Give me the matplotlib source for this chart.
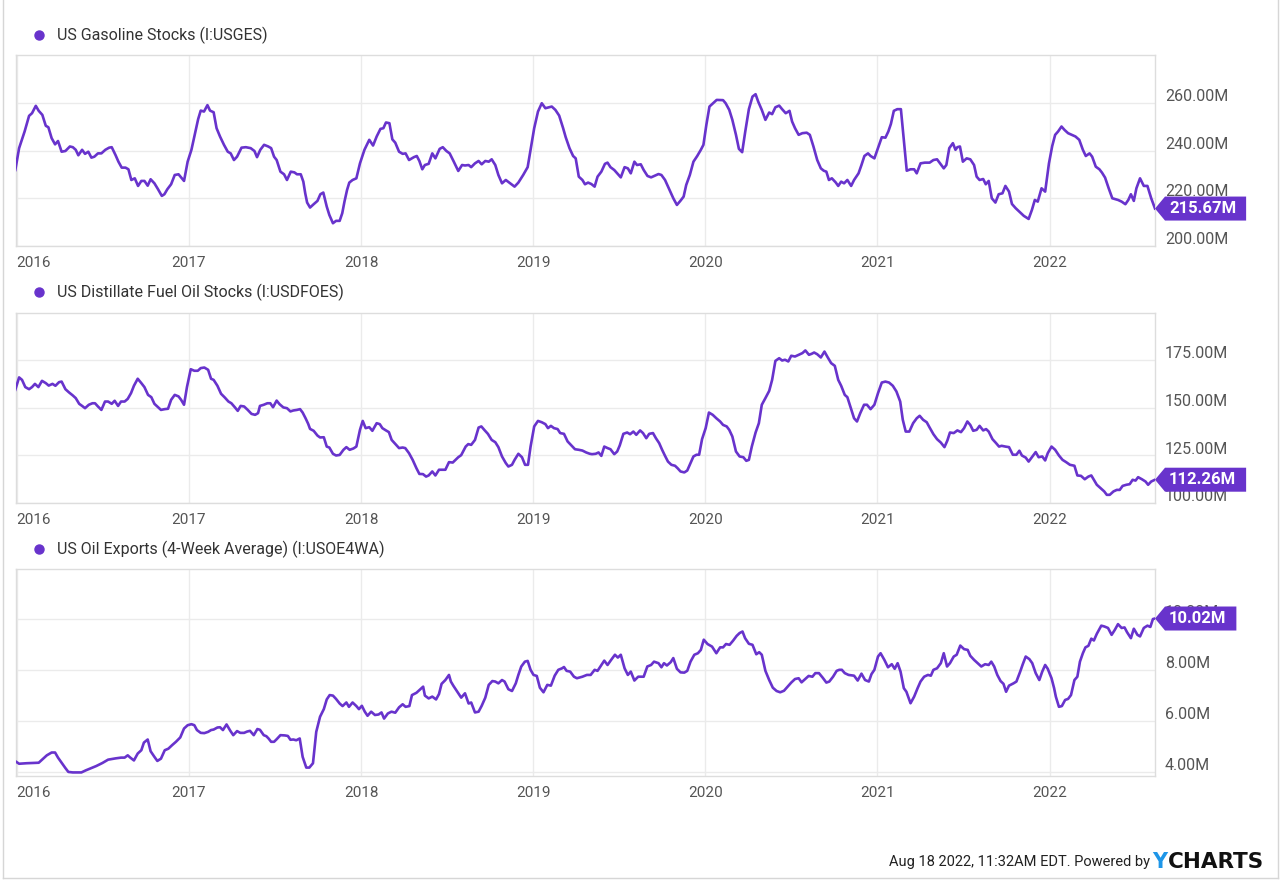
import matplotlib
matplotlib.use("Agg")
import matplotlib.pyplot as plt
import matplotlib.transforms as mtransforms
from matplotlib.patches import Polygon
from matplotlib.lines import Line2D

plt.rcParams['font.family'] = ['Roboto', 'DejaVu Sans']

PURPLE = '#6833cc'
W, H = 1280, 880

# --- data (dates as decimal years) ---
gas_years = [
    2015.992, 2016.014, 2016.046, 2016.072, 2016.089, 2016.111, 2016.128, 2016.149, 2016.169, 2016.184,
    2016.203, 2016.223, 2016.240, 2016.261, 2016.283, 2016.309, 2016.326, 2016.343, 2016.358, 2016.380,
    2016.397, 2016.416, 2016.434, 2016.451, 2016.472, 2016.492, 2016.515, 2016.537, 2016.552, 2016.574,
    2016.591, 2016.610, 2016.632, 2016.649, 2016.666, 2016.686, 2016.705, 2016.724, 2016.742, 2016.761,
    2016.778, 2016.800, 2016.821, 2016.843, 2016.858, 2016.875, 2016.897, 2016.918, 2016.940, 2016.972,
    2016.993, 2017.015, 2017.036, 2017.054, 2017.069, 2017.088, 2017.108, 2017.123, 2017.144, 2017.161,
    2017.181, 2017.204, 2017.226, 2017.243, 2017.262, 2017.280, 2017.306, 2017.331, 2017.359, 2017.381,
    2017.396, 2017.415, 2017.437, 2017.461, 2017.478, 2017.495, 2017.510, 2017.532, 2017.553, 2017.570,
    2017.592, 2017.613, 2017.628, 2017.650, 2017.665, 2017.676, 2017.687, 2017.704, 2017.725, 2017.747,
    2017.764, 2017.781, 2017.801, 2017.816, 2017.837, 2017.855, 2017.876, 2017.891, 2017.904, 2017.919,
    2017.932, 2017.951, 2017.973, 2017.994, 2018.020, 2018.048, 2018.070, 2018.091, 2018.113, 2018.130,
    2018.145, 2018.165, 2018.182, 2018.199, 2018.221, 2018.242, 2018.259, 2018.279, 2018.307, 2018.324,
    2018.339, 2018.356, 2018.371, 2018.393, 2018.414, 2018.432, 2018.457, 2018.475, 2018.496, 2018.515,
    2018.537, 2018.565, 2018.587, 2018.604, 2018.625, 2018.640, 2018.662, 2018.683, 2018.701, 2018.722,
    2018.742, 2018.759, 2018.780, 2018.798, 2018.819, 2018.841, 2018.866, 2018.892, 2018.914, 2018.942,
    2018.968, 2018.985, 2019.006, 2019.028, 2019.050, 2019.071, 2019.108, 2019.129, 2019.151, 2019.174,
    2019.189, 2019.211, 2019.232, 2019.247, 2019.265, 2019.286, 2019.301, 2019.319,
    2019.338, 2019.357, 2019.374, 2019.396, 2019.417, 2019.432, 2019.449, 2019.471, 2019.488, 2019.509,
    2019.531, 2019.550, 2019.567, 2019.588, 2019.603, 2019.625, 2019.642, 2019.664, 2019.685, 2019.706,
    2019.728, 2019.745, 2019.766, 2019.792, 2019.814, 2019.835, 2019.856, 2019.874, 2019.889, 2019.910,
    2019.931, 2019.953, 2019.974, 2019.989, 2020.006, 2020.024, 2020.045, 2020.066, 2020.103, 2020.118,
    2020.139, 2020.157, 2020.178, 2020.195, 2020.214, 2020.232, 2020.253, 2020.274, 2020.292, 2020.307,
    2020.328, 2020.349, 2020.371, 2020.388, 2020.407, 2020.429, 2020.446, 2020.467, 2020.489, 2020.504,
    2020.521, 2020.542, 2020.564, 2020.589, 2020.607, 2020.628, 2020.650, 2020.671, 2020.688, 2020.703,
    2020.718, 2020.735, 2020.757, 2020.772, 2020.789, 2020.806, 2020.825, 2020.847, 2020.864, 2020.890,
    2020.907, 2020.924, 2020.945, 2020.960, 2020.982, 2021.003, 2021.025, 2021.046, 2021.063, 2021.078,
    2021.095, 2021.115, 2021.136, 2021.153, 2021.170, 2021.192, 2021.213, 2021.228, 2021.250, 2021.275,
    2021.303, 2021.325, 2021.346, 2021.368, 2021.385, 2021.400, 2021.417, 2021.438, 2021.453, 2021.464,
    2021.479, 2021.496, 2021.518, 2021.539, 2021.561, 2021.576, 2021.593, 2021.614, 2021.629, 2021.646,
    2021.664, 2021.685, 2021.704, 2021.726, 2021.743, 2021.764, 2021.781, 2021.803, 2021.829, 2021.850,
    2021.878, 2021.897, 2021.914, 2021.931, 2021.953, 2021.974, 2021.996, 2022.015, 2022.032, 2022.049,
    2022.069, 2022.086, 2022.107, 2022.129, 2022.150, 2022.172, 2022.193, 2022.210, 2022.232, 2022.247,
    2022.268, 2022.289, 2022.304, 2022.322, 2022.343, 2022.364, 2022.397, 2022.418, 2022.440, 2022.457,
    2022.472, 2022.489, 2022.504, 2022.525, 2022.547, 2022.568, 2022.590, 2022.612,
]
gas_values = [  # millions of barrels
    231.9, 241.1, 248.1, 254.7, 255.8, 258.9, 256.8, 255.1, 250.5, 249.9,
    245.3, 242.7, 244.1, 239.6, 239.9, 241.8, 241.5, 240.4, 238.1, 240.4,
    238.7, 239.6, 237.1, 237.5, 238.9, 238.9, 240.4, 241.3, 241.5, 238.2,
    235.4, 232.9, 232.9, 232.2, 227.7, 228.4, 225.2, 227.3, 227.3, 225.3,
    228.0, 226.3, 223.8, 221.0, 221.7, 223.8, 225.9, 229.8, 230.1, 227.3,
    235.4, 240.4, 247.4, 253.3, 256.9, 256.5, 259.2, 256.9, 256.2, 249.5,
    246.0, 242.5, 239.6, 238.9, 236.1, 237.5, 241.3, 241.5, 241.1, 239.9,
    237.3, 240.4, 242.5, 241.8, 241.1, 237.5, 236.1, 231.2, 230.1, 227.7,
    231.2, 230.9, 230.1, 230.1, 227.0, 222.1, 218.2, 216.1, 217.5, 218.9,
    221.7, 222.4, 216.5, 213.0, 209.5, 210.5, 210.5, 213.7, 218.6, 223.5,
    226.6, 227.7, 228.4, 234.7, 240.4, 244.6, 242.2, 246.0, 249.2, 249.5,
    251.9, 251.6, 244.8, 243.4, 239.6, 238.7, 238.9, 236.1, 237.3, 237.8,
    235.7, 232.2, 234.0, 234.5, 238.9, 236.8, 240.8, 241.5, 239.9, 238.9,
    235.7, 231.5, 234.0, 233.8, 234.0, 233.1, 234.7, 235.7, 234.3, 235.7,
    235.4, 236.4, 234.0, 229.8, 226.3, 227.7, 226.3, 224.9, 226.6, 229.8,
    233.1, 240.4, 249.5, 256.5, 260.0, 257.9, 258.6, 257.2, 254.8, 249.5,
    245.7, 241.1, 237.8, 236.8, 229.1, 227.7, 225.9, 226.6,
    226.0, 224.9, 229.1, 231.2, 234.5, 235.0, 233.1, 231.9, 230.5, 228.8,
    233.1, 232.6, 230.5, 235.4, 234.0, 234.3, 231.9, 229.4, 228.8, 229.5,
    230.2, 229.8, 227.7, 223.5, 220.0, 217.2, 219.0, 220.7, 225.6, 229.8,
    235.4, 237.8, 240.4, 242.5, 250.9, 258.6, 260.0, 261.4, 261.3, 260.0,
    257.2, 253.0, 246.7, 240.8, 239.4, 248.1, 257.5, 262.8, 263.8, 260.7,
    257.2, 253.0, 256.1, 255.4, 258.3, 259.0, 257.5, 255.8, 256.8, 252.3,
    249.5, 246.7, 247.4, 247.6, 246.7, 241.8, 236.1, 232.6, 231.6, 231.2,
    227.7, 228.4, 226.7, 225.2, 227.0, 226.3, 227.7, 225.2, 227.7, 230.5,
    234.0, 237.8, 238.9, 237.8, 236.8, 241.1, 245.7, 245.5, 248.1, 251.3,
    256.8, 257.5, 257.5, 244.6, 231.6, 232.2, 232.2, 230.5, 234.7, 235.0,
    235.0, 236.1, 236.4, 234.3, 232.6, 234.0, 241.1, 243.2, 240.4, 241.5,
    241.8, 235.4, 236.8, 236.4, 234.0, 229.1, 227.7, 228.1, 225.9, 227.3,
    220.0, 218.2, 221.7, 222.1, 225.2, 222.8, 217.6, 215.8, 214.0, 212.6,
    211.3, 215.1, 219.3, 218.6, 224.2, 222.8, 234.7, 242.0, 246.7, 248.1,
    250.2, 248.8, 247.4, 246.7, 246.0, 244.6, 240.4, 237.8, 238.9, 237.5,
    233.3, 232.2, 230.8, 228.7, 224.2, 220.0, 219.3, 218.6, 217.5, 219.3,
    221.7, 218.9, 224.2, 228.4, 225.2, 225.2, 220.0, 215.67,
]

dist_years = [
    2015.992, 2016.014, 2016.031, 2016.050, 2016.072, 2016.089, 2016.106, 2016.126, 2016.147, 2016.169,
    2016.186, 2016.208, 2016.225, 2016.246, 2016.261, 2016.283, 2016.304, 2016.326, 2016.343, 2016.363,
    2016.380, 2016.397, 2016.419, 2016.440, 2016.455, 2016.472, 2016.492, 2016.513, 2016.531, 2016.552,
    2016.569, 2016.589, 2016.606, 2016.627, 2016.645, 2016.664, 2016.681, 2016.703, 2016.724, 2016.742,
    2016.763, 2016.782, 2016.800, 2016.817, 2016.838, 2016.860, 2016.879, 2016.897, 2016.918, 2016.940,
    2016.955, 2016.972, 2016.989, 2017.011, 2017.032, 2017.052, 2017.069, 2017.090, 2017.112, 2017.129,
    2017.144, 2017.166, 2017.187, 2017.209, 2017.230, 2017.247, 2017.267, 2017.284, 2017.301, 2017.321,
    2017.342, 2017.364, 2017.385, 2017.402, 2017.413, 2017.435, 2017.456, 2017.473, 2017.489, 2017.510,
    2017.527, 2017.549, 2017.570, 2017.590, 2017.607, 2017.628, 2017.646, 2017.661, 2017.678, 2017.693,
    2017.704, 2017.725, 2017.747, 2017.762, 2017.784, 2017.801, 2017.816, 2017.837, 2017.855, 2017.876,
    2017.898, 2017.915, 2017.934, 2017.956, 2017.973, 2017.994, 2018.010, 2018.027, 2018.048, 2018.066,
    2018.091, 2018.109, 2018.124, 2018.145, 2018.162, 2018.178, 2018.199, 2018.221, 2018.242, 2018.257,
    2018.279, 2018.300, 2018.322, 2018.339, 2018.360, 2018.378, 2018.393, 2018.414, 2018.432, 2018.453,
    2018.468, 2018.490, 2018.511, 2018.533, 2018.565, 2018.582, 2018.608, 2018.623, 2018.640, 2018.662,
    2018.683, 2018.699, 2018.716, 2018.737, 2018.759, 2018.780, 2018.798, 2018.819, 2018.841, 2018.856,
    2018.877, 2018.892, 2018.914, 2018.935, 2018.953, 2018.970, 2018.985, 2019.006, 2019.028, 2019.050,
    2019.071, 2019.086, 2019.103, 2019.121, 2019.142, 2019.157, 2019.179, 2019.200, 2019.222, 2019.243,
    2019.265, 2019.286, 2019.308, 2019.329,
    2019.342, 2019.363, 2019.380, 2019.396, 2019.413, 2019.432, 2019.449, 2019.471, 2019.488, 2019.503,
    2019.524, 2019.546, 2019.563, 2019.582, 2019.599, 2019.621, 2019.638, 2019.657, 2019.674, 2019.696,
    2019.713, 2019.732, 2019.749, 2019.766, 2019.783, 2019.803, 2019.824, 2019.839, 2019.856, 2019.878,
    2019.895, 2019.914, 2019.931, 2019.949, 2019.964, 2019.981, 2020.002, 2020.021, 2020.043, 2020.064,
    2020.086, 2020.103, 2020.124, 2020.139, 2020.157, 2020.178, 2020.199, 2020.221, 2020.238, 2020.253,
    2020.270, 2020.292, 2020.311, 2020.328, 2020.349, 2020.371, 2020.388, 2020.407, 2020.429, 2020.446,
    2020.463, 2020.482, 2020.499, 2020.521, 2020.542, 2020.564, 2020.581, 2020.602, 2020.617, 2020.632,
    2020.650, 2020.671, 2020.692, 2020.710, 2020.731, 2020.752, 2020.772, 2020.789, 2020.810, 2020.825,
    2020.842, 2020.864, 2020.881, 2020.900, 2020.922, 2020.939, 2020.960, 2020.982, 2021.003, 2021.025,
    2021.046, 2021.067, 2021.089, 2021.110, 2021.132, 2021.147, 2021.164, 2021.185, 2021.207, 2021.228,
    2021.245, 2021.265, 2021.286, 2021.303, 2021.325, 2021.346, 2021.368, 2021.389, 2021.406, 2021.421,
    2021.443, 2021.464, 2021.485, 2021.503, 2021.522, 2021.539, 2021.556, 2021.576, 2021.593, 2021.614,
    2021.631, 2021.646, 2021.668, 2021.689, 2021.706, 2021.721, 2021.743, 2021.764, 2021.786, 2021.807,
    2021.824, 2021.839, 2021.861, 2021.878, 2021.897, 2021.919, 2021.936, 2021.957, 2021.974, 2021.989,
    2022.011, 2022.032, 2022.054, 2022.075, 2022.096, 2022.118, 2022.144, 2022.161, 2022.182, 2022.204,
    2022.225, 2022.242, 2022.257, 2022.274, 2022.296, 2022.317, 2022.332, 2022.349, 2022.371, 2022.390,
    2022.407, 2022.424, 2022.446, 2022.465, 2022.482, 2022.499, 2022.514, 2022.536, 2022.557, 2022.572,
    2022.590, 2022.612,
]
dist_values = [
    159.6, 166.1, 164.8, 161.0, 159.9, 161.0, 162.7, 161.0, 164.3, 163.1,
    161.8, 162.7, 161.7, 163.6, 163.9, 159.9, 158.2, 156.6, 155.2, 152.2,
    151.1, 149.9, 151.7, 152.5, 152.5, 150.8, 149.0, 153.4, 153.4, 152.2,
    153.8, 151.1, 153.4, 153.4, 154.8, 157.8, 161.7, 165.4, 163.1, 161.0,
    156.9, 155.7, 152.2, 150.8, 149.0, 149.4, 149.6, 154.3, 156.9, 156.1,
    154.3, 151.7, 161.0, 170.4, 169.6, 169.6, 171.0, 171.3, 170.1, 165.4,
    164.8, 161.7, 157.5, 155.5, 153.4, 152.5, 150.4, 148.5, 151.1, 150.8,
    149.0, 146.9, 146.4, 147.3, 151.1, 151.7, 152.5, 152.5, 150.4, 153.9,
    152.0, 150.3, 149.9, 148.2, 148.7, 149.0, 149.4, 147.6, 144.6, 141.7,
    139.0, 138.0, 135.5, 134.5, 134.6, 129.7, 129.2, 125.9, 125.0, 125.3,
    128.0, 129.4, 128.0, 128.7, 129.7, 138.5, 143.2, 139.4, 139.9, 138.0,
    142.0, 141.5, 139.4, 138.2, 137.3, 133.2, 131.1, 128.9, 129.2, 128.9,
    126.2, 122.7, 118.3, 115.3, 115.2, 113.9, 114.5, 116.6, 114.5, 117.5,
    117.5, 117.5, 121.5, 121.3, 124.1, 125.2, 129.7, 131.0, 130.6, 133.2,
    139.7, 140.3, 138.5, 136.4, 133.2, 132.0, 129.4, 124.5, 121.0, 119.2,
    120.1, 122.7, 125.9, 124.1, 120.1, 120.1, 129.7, 140.3, 143.2, 142.5,
    141.5, 139.4, 140.6, 139.4, 138.9, 136.8, 136.4, 132.4, 130.3, 128.3,
    128.0, 127.6, 126.6, 125.9,
    125.7, 125.9, 126.6, 124.8, 129.7, 128.9, 128.3, 125.7, 127.1, 130.3,
    136.4, 137.1, 136.2, 137.6, 135.9, 138.2, 136.8, 134.1, 136.4, 136.8,
    134.1, 131.5, 128.0, 124.8, 121.8, 120.1, 119.6, 118.3, 116.6, 116.1,
    117.1, 121.0, 124.5, 125.4, 125.4, 133.6, 139.4, 147.6, 146.4, 144.6,
    142.9, 141.1, 140.3, 138.5, 135.0, 127.1, 124.5, 124.1, 122.2, 122.7,
    129.7, 137.1, 142.0, 151.7, 155.2, 159.0, 164.8, 174.8, 176.2, 175.0,
    175.4, 174.5, 177.5, 177.1, 178.0, 178.9, 180.3, 178.0, 178.5, 179.2,
    178.3, 176.6, 179.7, 176.8, 173.6, 172.2, 164.8, 161.7, 156.9, 155.7,
    150.8, 144.6, 142.9, 147.3, 151.7, 151.7, 149.4, 151.7, 157.8, 163.4,
    163.9, 163.4, 161.7, 158.7, 153.4, 143.8, 137.6, 137.6, 142.0, 144.6,
    145.9, 143.8, 142.5, 139.7, 136.2, 133.6, 131.8, 129.4, 132.9, 137.1,
    136.8, 138.2, 137.3, 139.4, 142.9, 141.1, 138.0, 138.5, 140.6, 138.2,
    138.9, 137.6, 133.6, 131.5, 129.7, 130.1, 129.7, 129.4, 125.4, 125.4,
    127.5, 125.0, 123.9, 121.8, 124.1, 126.8, 124.1, 124.5, 122.4, 126.2,
    129.7, 128.0, 125.0, 122.7, 121.5, 120.1, 119.6, 114.5, 114.3, 112.5,
    113.9, 114.5, 112.2, 109.6, 107.8, 106.1, 104.3, 104.3, 106.1, 106.9,
    106.9, 109.0, 109.6, 109.9, 112.2, 111.8, 113.6, 112.5, 111.3, 109.6,
    111.3, 112.26,
]

exp_years = [
    2015.992, 2016.014, 2016.057, 2016.128, 2016.154, 2016.175, 2016.203, 2016.223, 2016.240, 2016.261,
    2016.283, 2016.300, 2016.326, 2016.376, 2016.401, 2016.434, 2016.462, 2016.498, 2016.531, 2016.574,
    2016.606, 2016.627, 2016.645, 2016.660, 2016.681, 2016.703, 2016.724, 2016.739, 2016.761, 2016.778,
    2016.800, 2016.817, 2016.838, 2016.860, 2016.881, 2016.903, 2016.925, 2016.950, 2016.972, 2016.993,
    2017.015, 2017.032, 2017.047, 2017.069, 2017.090, 2017.112, 2017.129, 2017.144, 2017.166, 2017.181,
    2017.198, 2017.219, 2017.241, 2017.258, 2017.280, 2017.299, 2017.321, 2017.338, 2017.355, 2017.377,
    2017.398, 2017.413, 2017.435, 2017.450, 2017.463, 2017.478, 2017.495, 2017.510, 2017.532, 2017.557,
    2017.575, 2017.590, 2017.607, 2017.624, 2017.644, 2017.661, 2017.682, 2017.700, 2017.721, 2017.740,
    2017.762, 2017.784, 2017.801, 2017.818, 2017.837, 2017.855, 2017.876, 2017.893, 2017.915, 2017.930,
    2017.951, 2017.973, 2017.988, 2018.005, 2018.022, 2018.038, 2018.059, 2018.081, 2018.102, 2018.119,
    2018.134, 2018.156, 2018.177, 2018.199, 2018.221, 2018.242, 2018.259, 2018.281, 2018.296, 2018.322,
    2018.350, 2018.361, 2018.371, 2018.393, 2018.414, 2018.436, 2018.453, 2018.468, 2018.490, 2018.511,
    2018.522, 2018.537, 2018.565, 2018.582, 2018.604, 2018.625, 2018.640, 2018.662, 2018.683, 2018.701,
    2018.722, 2018.742, 2018.763, 2018.780, 2018.798, 2018.819, 2018.834, 2018.856, 2018.877, 2018.899,
    2018.914, 2018.931, 2018.952, 2018.968, 2018.985, 2019.002, 2019.021, 2019.039, 2019.060, 2019.082,
    2019.103, 2019.125, 2019.146, 2019.168, 2019.179, 2019.194, 2019.215, 2019.237, 2019.254, 2019.286,
    2019.312, 2019.334,
    2019.357, 2019.374, 2019.396, 2019.413, 2019.432, 2019.453, 2019.475, 2019.492, 2019.509, 2019.531,
    2019.550, 2019.567, 2019.588, 2019.610, 2019.642, 2019.663, 2019.685, 2019.702, 2019.728, 2019.745,
    2019.760, 2019.777, 2019.799, 2019.814, 2019.835, 2019.856, 2019.878, 2019.895, 2019.914, 2019.936,
    2019.957, 2019.974, 2019.991, 2020.013, 2020.039, 2020.064, 2020.086, 2020.103, 2020.120, 2020.141,
    2020.161, 2020.182, 2020.199, 2020.216, 2020.231, 2020.253, 2020.274, 2020.296, 2020.313, 2020.328,
    2020.349, 2020.371, 2020.392, 2020.414, 2020.435, 2020.457, 2020.478, 2020.499, 2020.521, 2020.542,
    2020.559, 2020.579, 2020.600, 2020.622, 2020.639, 2020.660, 2020.682, 2020.703, 2020.720, 2020.742,
    2020.763, 2020.778, 2020.793, 2020.810, 2020.832, 2020.864, 2020.885, 2020.907, 2020.928, 2020.950,
    2020.965, 2020.982, 2021.003, 2021.018, 2021.040, 2021.061, 2021.083, 2021.100, 2021.117, 2021.134,
    2021.153, 2021.168, 2021.192, 2021.213, 2021.233, 2021.250, 2021.271, 2021.293, 2021.310, 2021.325,
    2021.346, 2021.368, 2021.385, 2021.404, 2021.421, 2021.443, 2021.460, 2021.481, 2021.503, 2021.524,
    2021.539, 2021.561, 2021.582, 2021.603, 2021.625, 2021.646, 2021.661, 2021.678, 2021.696, 2021.715,
    2021.732, 2021.747, 2021.764, 2021.790, 2021.807, 2021.829, 2021.844, 2021.861, 2021.882, 2021.899,
    2021.919, 2021.940, 2021.957, 2021.974, 2021.989, 2022.011, 2022.026, 2022.036, 2022.054, 2022.071,
    2022.090, 2022.107, 2022.124, 2022.144, 2022.161, 2022.176, 2022.193, 2022.208, 2022.225, 2022.242,
    2022.257, 2022.274, 2022.300, 2022.317, 2022.339, 2022.360, 2022.379, 2022.397, 2022.418, 2022.435,
    2022.450, 2022.472, 2022.489, 2022.510, 2022.525, 2022.547, 2022.568, 2022.585, 2022.600, 2022.612,
]
exp_values = [  # millions of barrels per day
    4.43, 4.33, 4.35, 4.37, 4.53, 4.66, 4.77, 4.77, 4.57, 4.37,
    4.16, 4.01, 3.99, 3.99, 4.07, 4.16, 4.24, 4.36, 4.49, 4.54,
    4.57, 4.57, 4.66, 4.57, 4.46, 4.73, 4.86, 5.16, 5.28, 4.82,
    4.60, 4.44, 4.53, 4.86, 4.92, 5.06, 5.19, 5.36, 5.71, 5.84,
    5.88, 5.84, 5.65, 5.54, 5.53, 5.58, 5.65, 5.67, 5.75, 5.76,
    5.65, 5.87, 5.62, 5.45, 5.61, 5.54, 5.54, 5.59, 5.62, 5.45,
    5.69, 5.66, 5.45, 5.41, 5.32, 5.19, 5.19, 5.29, 5.45, 5.44,
    5.42, 5.27, 5.28, 5.25, 5.32, 4.60, 4.18, 4.18, 4.35, 5.58,
    6.17, 6.47, 6.85, 7.02, 7.00, 6.87, 6.69, 6.59, 6.73, 6.56,
    6.73, 6.59, 6.47, 6.60, 6.37, 6.21, 6.37, 6.24, 6.26, 6.34,
    6.10, 6.30, 6.37, 6.33, 6.54, 6.66, 6.56, 6.59, 7.02, 7.11,
    7.28, 7.35, 7.00, 6.89, 6.96, 6.85, 7.06, 7.46, 7.61, 7.81,
    7.55, 7.38, 7.09, 6.92, 7.09, 6.69, 6.73, 6.34, 6.37, 6.60,
    6.92, 7.42, 7.57, 7.55, 7.48, 7.61, 7.55, 7.25, 7.18, 7.48,
    7.81, 8.14, 8.33, 8.36, 8.01, 7.81, 7.77, 7.31, 7.13, 7.42,
    7.39, 7.78, 8.01, 8.07, 8.12, 7.97, 7.94, 7.74, 7.68, 7.74,
    7.81, 7.81,
    8.01, 7.97, 8.20, 8.37, 8.20, 8.40, 8.60, 8.49, 8.60, 8.07,
    7.81, 7.94, 7.59, 7.74, 7.74, 8.14, 8.20, 8.33, 8.27, 8.11,
    8.27, 8.18, 8.31, 8.47, 8.05, 7.91, 7.90, 7.97, 8.33, 8.60,
    8.66, 8.79, 9.19, 9.02, 8.92, 8.66, 8.89, 8.89, 9.02, 8.99,
    9.15, 9.34, 9.45, 9.51, 9.25, 9.03, 8.99, 8.62, 8.70, 8.60,
    7.97, 7.61, 7.31, 7.18, 7.13, 7.19, 7.35, 7.51, 7.65, 7.68,
    7.52, 7.64, 7.77, 7.74, 7.88, 7.88, 7.70, 7.51, 7.55, 7.74,
    7.97, 8.01, 8.01, 7.88, 7.81, 7.78, 7.59, 7.86, 7.61, 7.55,
    7.84, 8.01, 8.53, 8.66, 8.40, 8.11, 8.23, 8.05, 8.27, 7.94,
    7.29, 7.15, 6.70, 6.96, 7.29, 7.55, 7.74, 7.81, 7.78, 8.01,
    8.07, 8.27, 8.66, 8.14, 8.27, 8.53, 8.60, 8.96, 8.82, 8.79,
    8.56, 8.40, 8.27, 8.14, 8.23, 8.20, 8.33, 8.14, 7.81, 7.57,
    7.46, 7.15, 7.39, 7.48, 7.55, 7.94, 8.23, 8.53, 8.43, 8.27,
    7.88, 7.61, 7.94, 8.20, 8.05, 7.68, 7.29, 6.96, 6.56, 6.59,
    6.83, 6.87, 7.02, 7.61, 7.74, 8.33, 8.66, 8.89, 8.95, 9.23,
    9.16, 9.42, 9.74, 9.71, 9.65, 9.38, 9.58, 9.80, 9.65, 9.67,
    9.48, 9.25, 9.62, 9.38, 9.32, 9.65, 9.74, 9.69, 10.00, 10.02,
]

titles = ["US Gasoline Stocks (I:USGES)",
          "US Distillate Fuel Oil Stocks (I:USDFOES)",
          "US Oil Exports (4-Week Average) (I:USOE4WA)"]
end_labels = ["215.67M", "112.26M", "10.02M"]
gas_ticks = [200, 220, 240, 260]
dist_ticks = [100, 125, 150, 175]
exp_ticks = [4, 6, 8, 10]
year_ticks = [2016, 2017, 2018, 2019, 2020, 2021, 2022]

fig = plt.figure(figsize=(12.8, 8.8), dpi=100)
fig.patch.set_facecolor('white')

# panel layout in pixels: (top, bottom, ylim, title y, data, ticks)
panels = [
    (55, 245.8, (200, 280.3), 35, gas_years, gas_values, gas_ticks),
    (313, 503, (100, 200), 292, dist_years, dist_values, dist_ticks),
    (569, 776, (3.85, 11.96), 549, exp_years, exp_values, exp_ticks),
]
LEFT, RIGHT = 16, 1155
X0, X1 = 2015.996, 2022.612

axes = []
for i, (top, bot, ylim, ty, xs, ys, yt) in enumerate(panels):
    ax = fig.add_axes([LEFT / W, 1 - bot / H, (RIGHT - LEFT) / W, (bot - top) / H])
    ax.plot(xs, ys, color=PURPLE, lw=1.9, solid_joinstyle='round', zorder=3)
    ax.set_xlim(X0, X1)
    ax.set_ylim(*ylim)
    ax.set_xticks(year_ticks)
    ax.set_xticklabels([str(y) for y in year_ticks])
    ax.get_xticklabels()[0].set_horizontalalignment('left')
    ax.set_yticks(yt)
    ax.tick_params(axis='x', length=0, pad=7, labelsize=11, labelcolor='#555555')
    ax.tick_params(axis='y', length=0, labelleft=False, labelright=False)
    ax.grid(True, color='#ebebeb', lw=1)
    ax.set_axisbelow(True)
    for s in ax.spines.values():
        s.set_color('#dddddd')
        s.set_linewidth(1)

    # right-hand value labels sit just above their grid lines
    blend = mtransforms.blended_transform_factory(ax.transAxes, ax.transData)
    lab_tr = mtransforms.offset_copy(blend, fig=fig, x=10, y=2, units='dots')
    for v in yt:
        ax.text(1.0, v, f"{v:.2f}M", transform=lab_tr, ha='left', va='baseline',
                fontsize=11.5, color='#555555', clip_on=False)

    # legend entry above each panel
    fig.add_artist(Line2D([39 / W], [1 - ty / H], marker='o', ms=6.5, color=PURPLE,
                          transform=fig.transFigure))
    fig.text(57 / W, 1 - ty / H, titles[i], va='center', ha='left',
             fontsize=11.5, color='#333333')
    axes.append(ax)

# purple tag with the last value, pointing at the end of each line
fig.canvas.draw()
renderer = fig.canvas.get_renderer()
ident = mtransforms.IdentityTransform()
for ax, (top, bot, ylim, ty, xs, ys, yt), lab in zip(axes, panels, end_labels):
    bx, by = mtransforms.blended_transform_factory(ax.transAxes, ax.transData).transform((1.0, ys[-1]))
    txt = fig.text(bx + 14, by, lab, transform=ident, ha='left', va='center',
                   fontsize=12, fontweight='bold', color='white', zorder=6)
    tw = txt.get_window_extent(renderer).width
    hh = 12
    pts = [(bx, by), (bx + 10, by + hh), (bx + 14 + tw + 10, by + hh),
           (bx + 14 + tw + 10, by - hh), (bx + 10, by - hh)]
    fig.add_artist(Polygon(pts, closed=True, facecolor=PURPLE, edgecolor='none',
                           transform=ident, zorder=5))

# footer
fig.text(1150 / W, 1 - 862 / H, "Aug 18 2022, 11:32AM EDT. Powered by", ha='right', va='center',
         fontsize=10.5, color='#222222')
fig.text(1152 / W, 1 - 862 / H, "Y", ha='left', va='center', fontsize=15, fontweight='bold',
         color='#1e96e8', family='DejaVu Sans')
fig.text(1168 / W, 1 - 862 / H, "CHARTS", ha='left', va='center', fontsize=15.5, fontweight='bold',
         color='#111111', family='DejaVu Sans')

# thin outer frame
for xs_, ys_ in [([2.5, 2.5], [0, 878]), ([1277.5, 1277.5], [0, 878]), ([2.5, 1277.5], [878, 878])]:
    fig.add_artist(Line2D([x / W for x in xs_], [1 - y / H for y in ys_], color='#d6d6d6', lw=1,
                          transform=fig.transFigure))

fig.savefig("out.png", dpi=100)
